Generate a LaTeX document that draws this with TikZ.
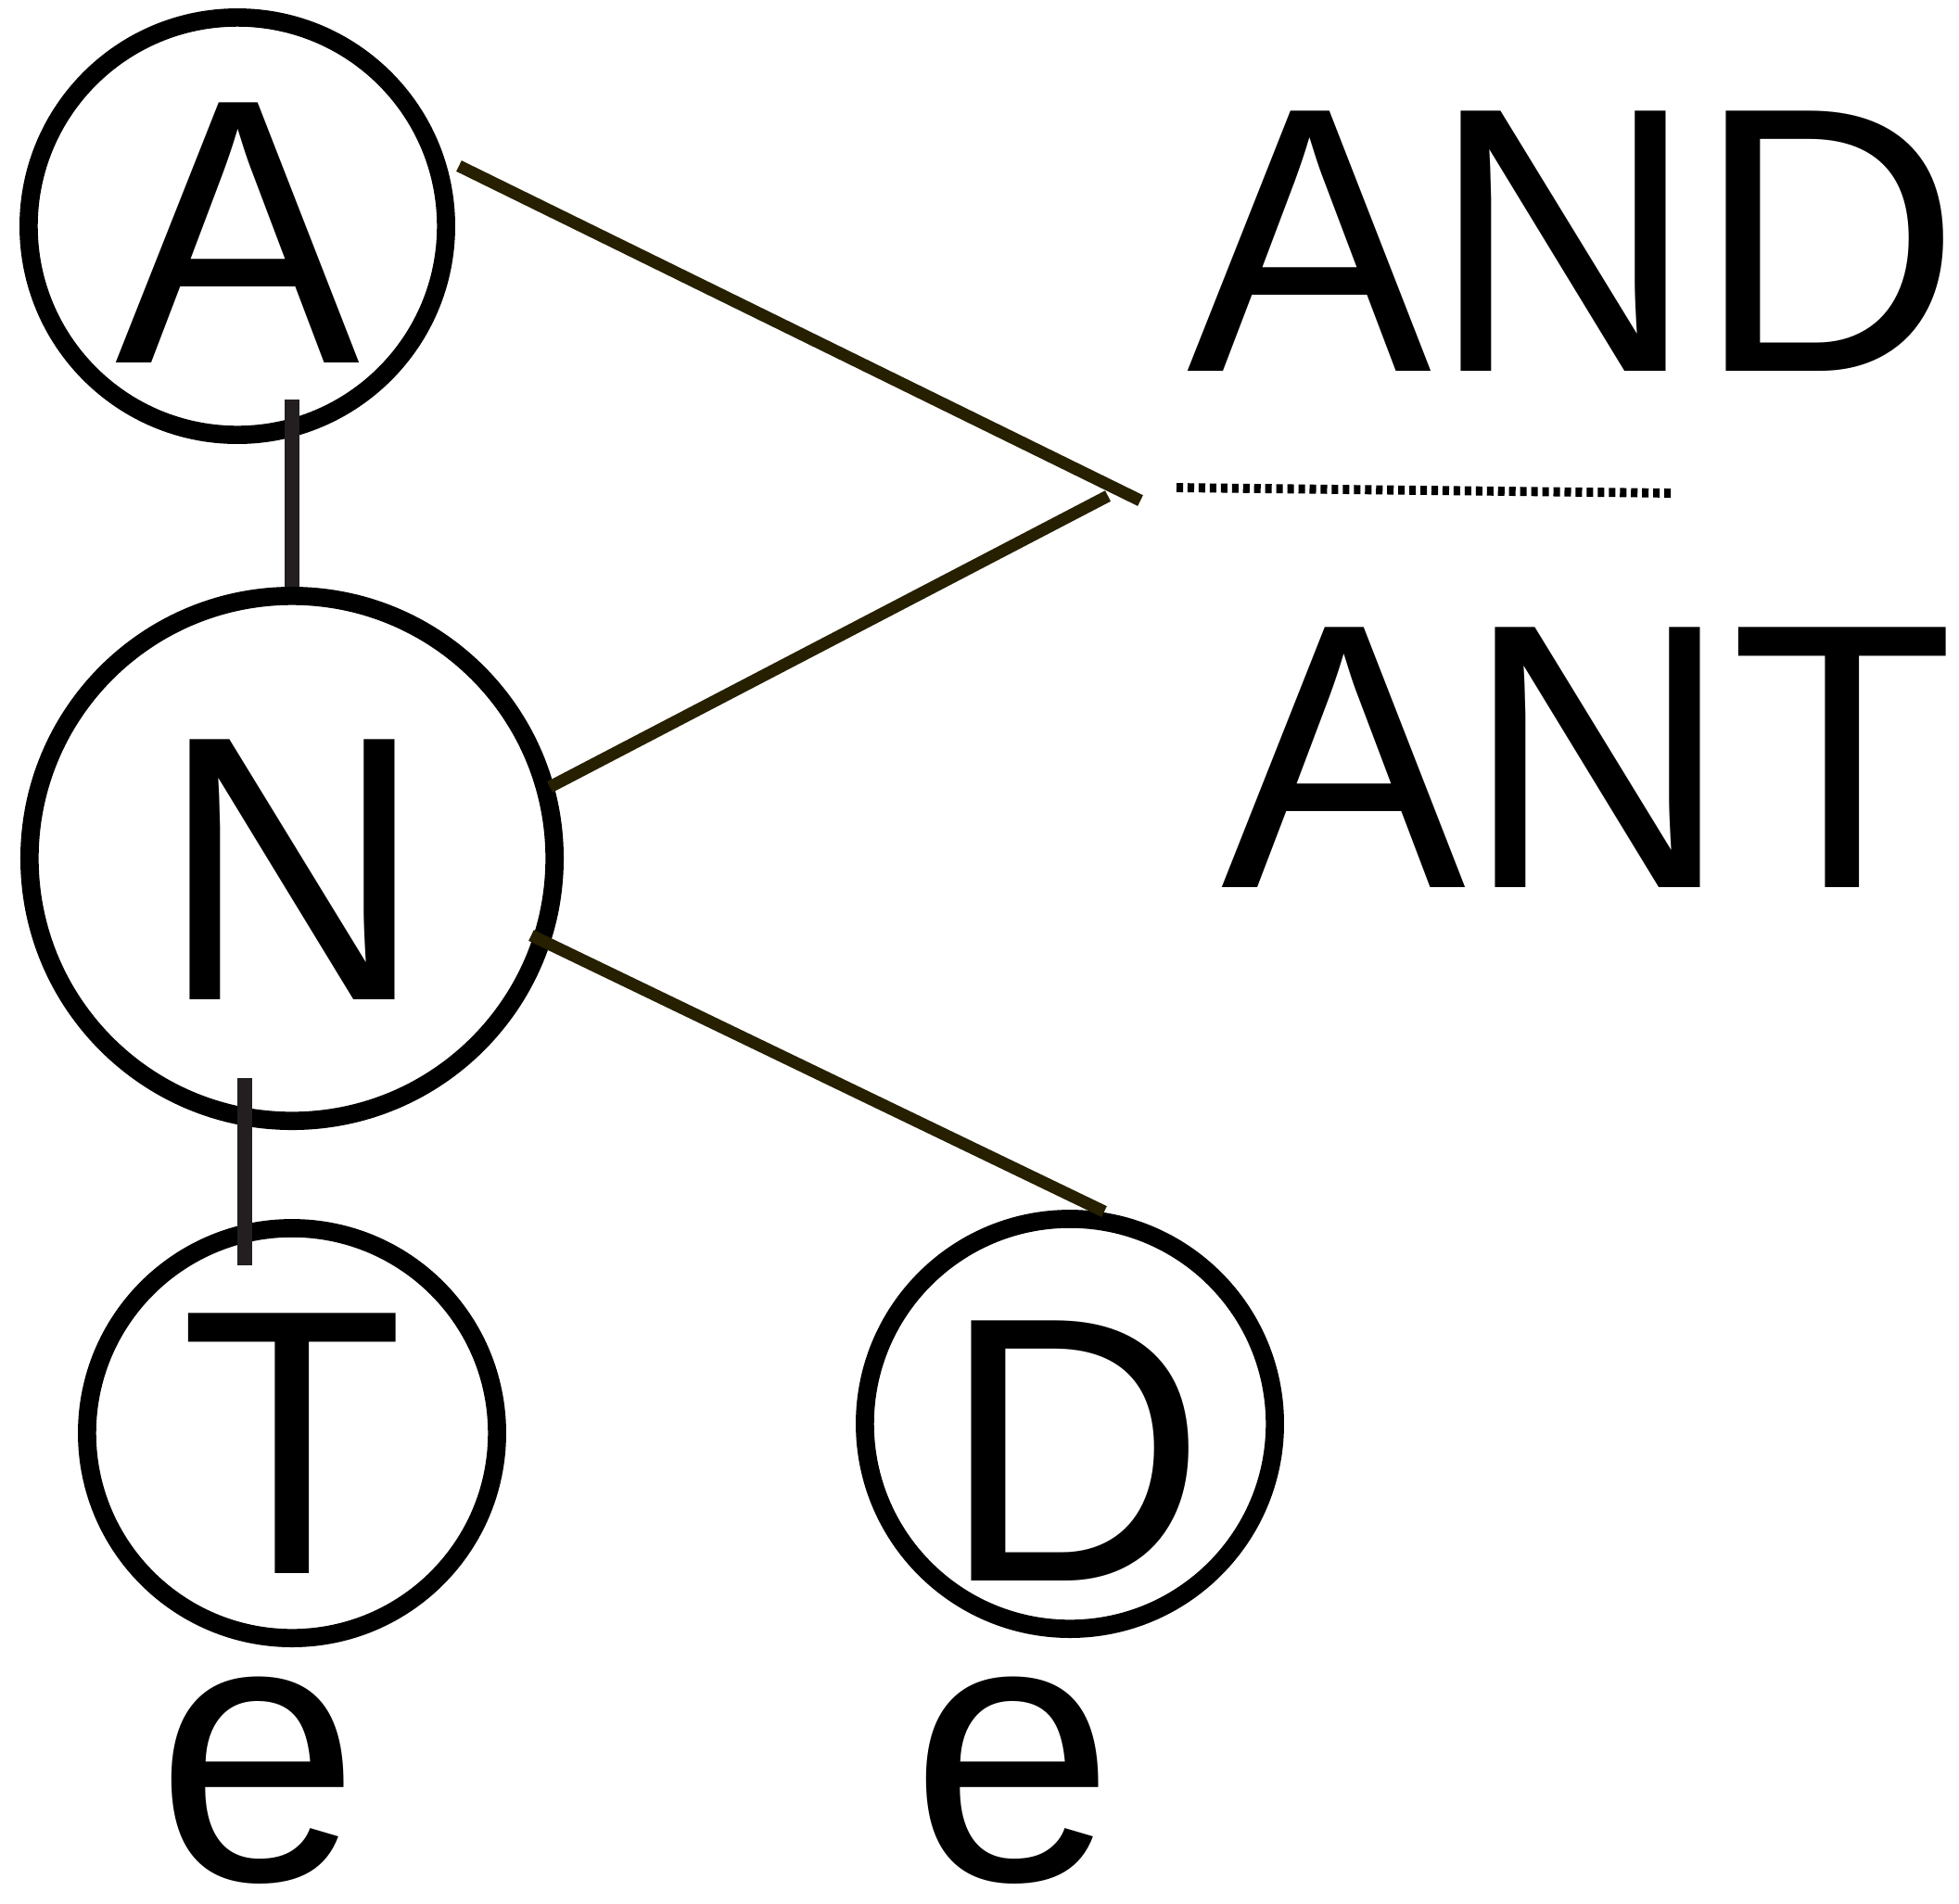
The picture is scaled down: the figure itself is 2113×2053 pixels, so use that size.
\documentclass[tikz,border=0pt]{standalone}
\usepackage{fontspec}
\setmainfont[FakeStretch=0.97]{Liberation Sans}
\definecolor{olive}{HTML}{262000}
\definecolor{darkgrey}{HTML}{231F20}
\begin{document}
\begin{tikzpicture}[x=0.01cm,y=-0.01cm,
  ring/.style={circle,draw=black,line width=5.6pt,inner sep=0pt,outer sep=0pt},
  letter/.style={inner sep=0pt,outer sep=0pt,anchor=base,font=\fontsize{116}{134}\selectfont},
  word/.style={inner sep=0pt,outer sep=0pt,anchor=base west,font=\fontsize{116}{134}\selectfont},
  olivelink/.style={draw=olive,line width=3.7pt},
  stem/.style={draw=darkgrey,line width=4.8pt},
  dotline/.style={draw=black,line width=2.8pt,dash pattern=on 2pt off 1.4pt}]
\useasboundingbox (0,0) rectangle (2113,2053);
% circles
\node[ring,minimum size=4.5cm] (cA) at (256,244) {};
\node[ring,minimum size=5.66cm] (cN) at (315,926) {};
\node[ring,minimum size=4.42cm] (cT) at (315,1546) {};
\node[ring,minimum size=4.42cm] (cD) at (1154,1536) {};
% letters
\node[letter] (lA) at (256,391) {A};
\node[letter] (lN) at (315,1078) {N};
\node[letter] (lT) at (315,1697) {T};
\node[letter] (lD) at (1158,1705) {D};
\node[letter] (eT) at (279,2028) {e};
\node[letter] (eD) at (1093,2028) {e};
% words
\node[word] (wAND) at (1280,400) {AND};
\node[word] (wANT) at (1317,957) {ANT};
% connector end points
\coordinate (pA) at (495,179);
\coordinate (tip1) at (1230,540);
\coordinate (tip2) at (1195,535);
\coordinate (pN1) at (593,849);
\coordinate (pN2) at (573,1009);
\coordinate (pD) at (1191,1307);
\coordinate (s1a) at (315,431);
\coordinate (s1b) at (315,633);
\coordinate (s2a) at (264,1163);
\coordinate (s2b) at (264,1365);
\coordinate (d1) at (1269,526);
\coordinate (d2) at (1806,532);
% connectors
\draw[olivelink] (pA) -- (tip1);
\draw[olivelink] (pN1) -- (tip2);
\draw[olivelink] (pN2) -- (pD);
\draw[stem] (s1a) -- (s1b);
\draw[stem] (s2a) -- (s2b);
\draw[dotline] (d1) -- (d2);
\end{tikzpicture}
\end{document}
